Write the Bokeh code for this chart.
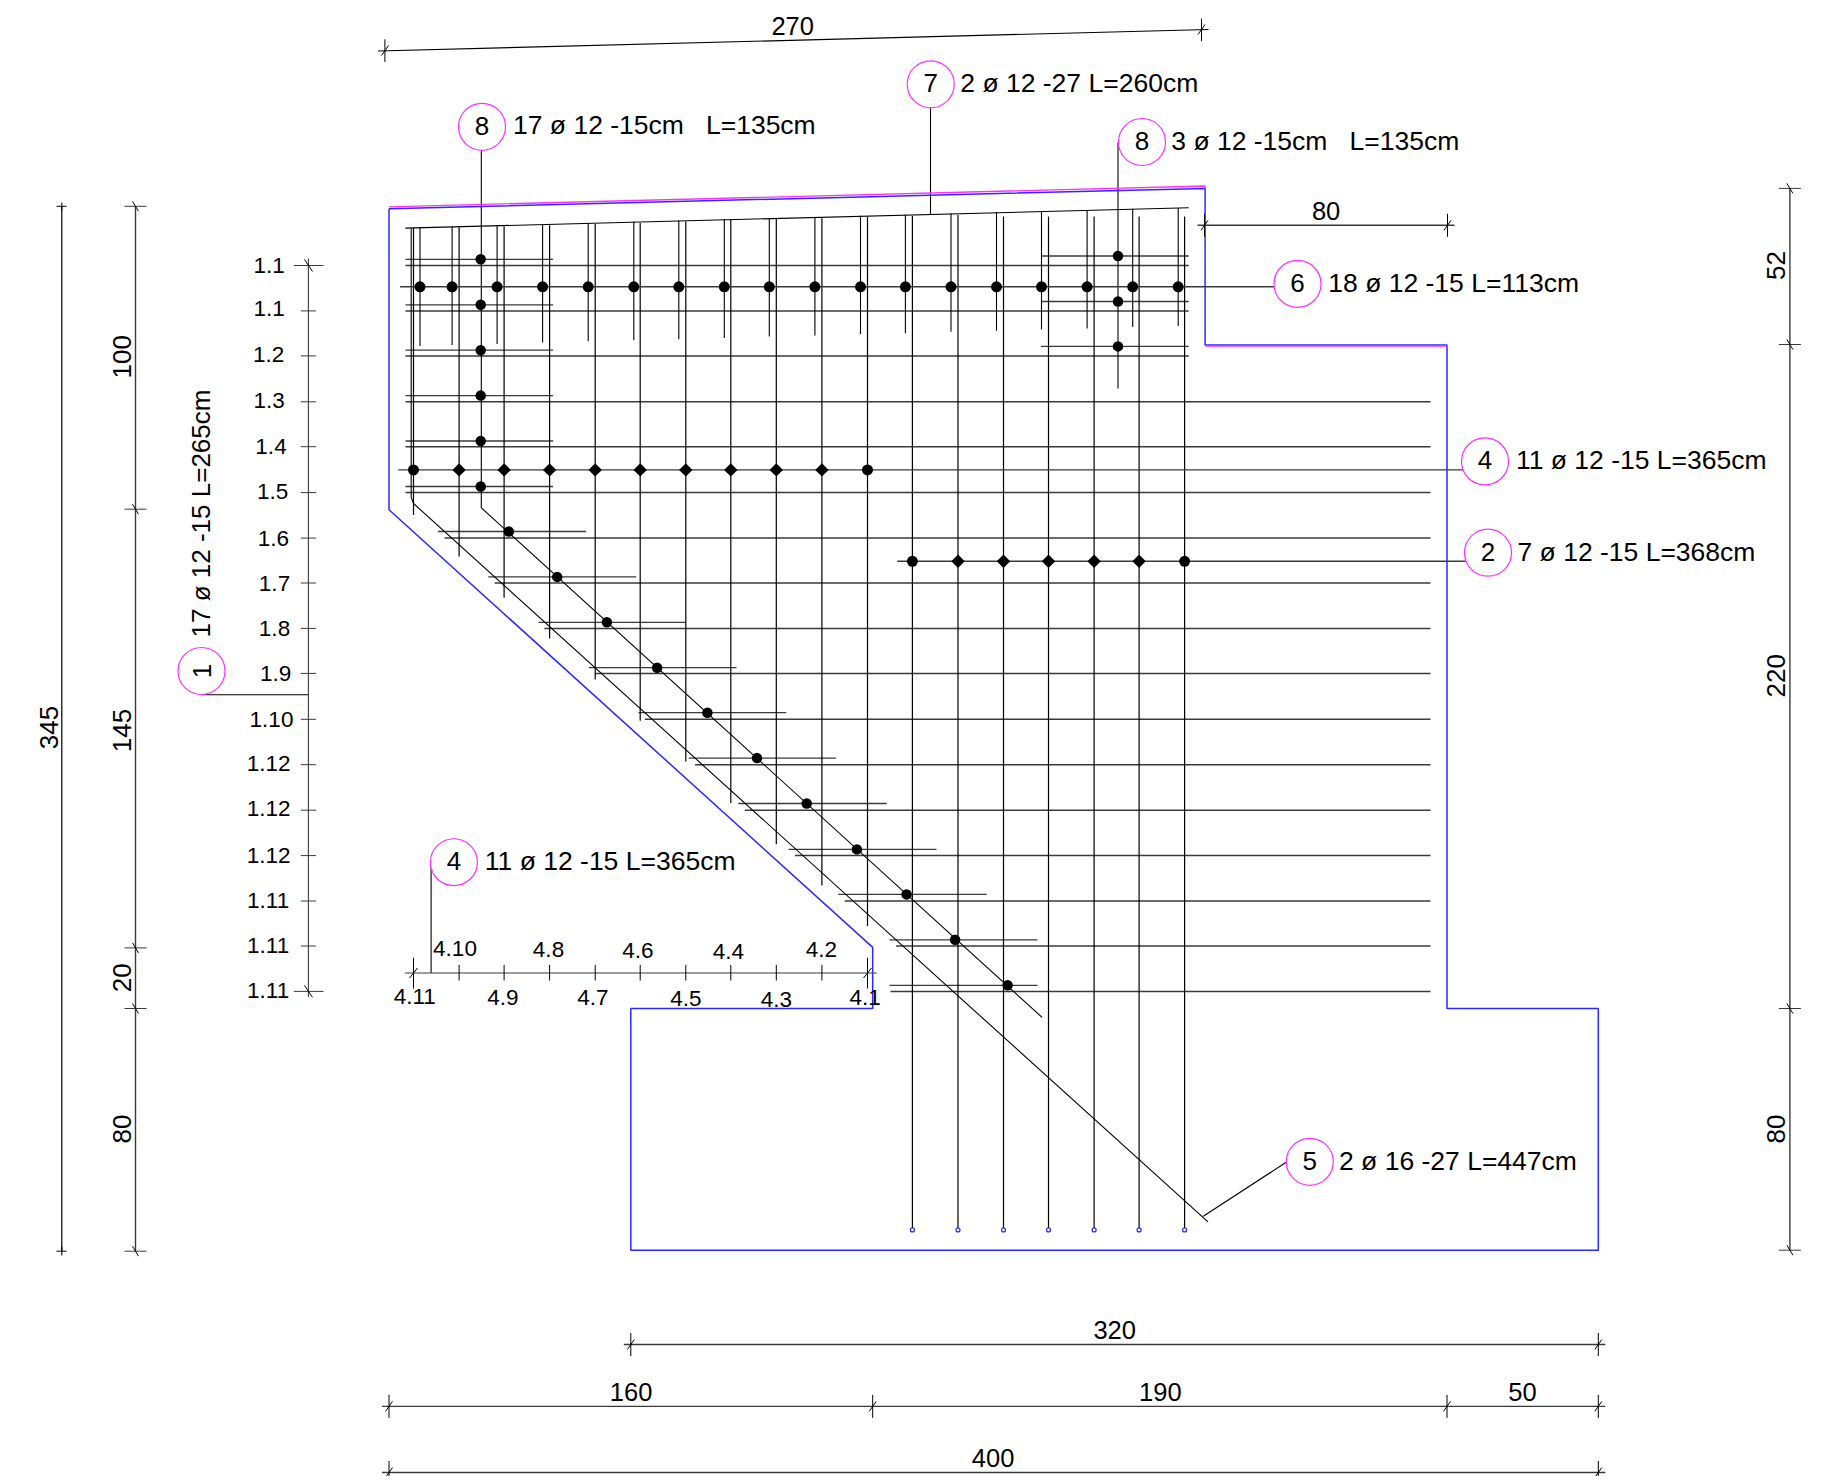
from math import pi
from bokeh.plotting import figure
from bokeh.models import Range1d
from bokeh.core.properties import value
from bokeh.embed import file_html
from bokeh.resources import INLINE

REG = "Liberation Sans"
BLUE = "#2a2aff"
MAG = "#ff30ff"
BLK = "#000000"
GRY = "#3a3a3a"

# Outline of the slab, in page units
outline_x = [388.5, 1204.6, 1204.6, 1446.5, 1446.5, 1597.8, 1597.8, 630.3, 630.3, 872.2, 872.2, 388.5, 388.5]
outline_y = [208.2, 187.9, 344.5, 344.5, 1007.9, 1007.9, 1249.7, 1249.7, 1007.9, 1007.9, 946.9, 509.2, 208.2]
magenta_x = [[388.5, 1204.6, 1204.6], [1204.6, 1446.5]]
magenta_y = [[206.3, 185.5, 188], [345.6, 345.6]]

# Bars 1: horizontals
bar1_y = [265, 310.4, 355.4, 401.3, 446.2, 492.1, 537.6, 582.5, 627.9, 672.9, 718.8, 764.2, 809.7, 855.1, 900.5, 945.5, 990.9]
bar1_left = [405, 405, 405, 405, 405, 405, 444, 494.2, 543.9, 594.7, 644.4, 694.6, 744.3, 794.5, 844.2, 895.6, 890]
bar1_right = [1188.2, 1188.2, 1188.2, 1430, 1430, 1430, 1430, 1430, 1430, 1430, 1430, 1430, 1430, 1430, 1430, 1430, 1430]
bar1_labels = ["1.1", "1.1", "1.2", "1.3", "1.4", "1.5", "1.6", "1.7", "1.8", "1.9", "1.10", "1.12", "1.12", "1.12", "1.11", "1.11", "1.11"]
bar1_label_x = [268.7, 268.7, 268.1, 268.7, 270.5, 272.2, 272.8, 274, 274, 275.1, 271, 268.1, 268.1, 268.1, 267.6, 267.6, 267.6]
bar1_label_y = [265, 307.6, 353.5, 400.3, 445.8, 491.2, 537.6, 582.5, 627.9, 672.9, 719.3, 763.3, 808.2, 854.6, 899.6, 944.5, 990.4]

# Bars 6: short verticals with dots
bar6_x = [419.5, 451.6, 496.6, 542.1, 587.7, 633.3, 678.3, 723.8, 768.8, 814.4, 860, 904.9, 950.5, 996, 1041, 1086.6, 1132.2, 1177.7]
bar6_top = [226.8, 226, 224.8, 223.6, 222.4, 221.2, 220, 218.9, 217.7, 216.5, 215.3, 214.2, 213, 211.8, 210.6, 209.4, 208.2, 207.5]
bar6_bottom = [345.4, 344.5, 343.5, 342.1, 340.7, 339.8, 338.8, 337.4, 336, 335, 333.6, 332.7, 331.2, 330.3, 328.9, 327.9, 326.5, 325.6]
bar6_dot_y = 286.3

# Bars 4 and 2: long verticals
long_x = [413, 458.6, 503.6, 549.1, 594.7, 639.7, 685.3, 730.3, 775.8, 821.4, 867, 911.9, 957.5, 1003, 1048, 1093.6, 1138.6, 1184.1]
long_top = [227.6, 226.7, 225.7, 224.8, 223.4, 222.4, 221, 219.6, 218.6, 217.7, 216.3, 215.5, 214.5, 216, 216, 216, 216, 216]
long_bottom = [514.4, 556, 597.2, 637.9, 679, 720.2, 760.9, 802.6, 843.7, 884.9, 925.6, 1229.4, 1229.4, 1229.4, 1229.4, 1229.4, 1229.4, 1229.4]
bar4_y = 469.4
bar2_y = 560.8

# Bars 8: short distribution bars with dots
bar8_left_x = [405] * 6
bar8_left_r = [552.6] * 6
bar8_left_y = [258.8, 304.3, 349.7, 395.1, 440.5, 486]
bar8_left_dot_x = 480.2
bar8_right_y = [255.5, 301, 345.9]
bar8_right_dot_x = 1117.5
diag_dot_x = [508.3, 556.7, 606.4, 656.6, 706.9, 756.5, 806.2, 856.4, 906.1, 954.6, 1007.1]
diag_dot_y = [531, 576.4, 621.8, 667.2, 712.2, 757.6, 803, 848.9, 893.9, 939.3, 984.8]
diag_bar_l = [437.6, 487.8, 538, 588.3, 638, 688.2, 737.8, 788, 837.7, 889, 889]
diag_bar_r = [585.4, 635.6, 685.3, 736, 785.8, 835.4, 886.2, 936, 986, 1037, 1037]

# Other continuous lines
thin_xs = [
    [404.9, 1188.2],
    [410.7, 410.7, 413, 1207.5],
    [480.8, 480.8, 1041.6],
    [1117.5, 1117.5],
    [201.5, 307.9],
    [1286.4, 1202.8],
    [930, 930],
    [430.6, 430.6],
    [1462.2, 1462.2],
]
thin_ys = [
    [227.6, 207.3],
    [228, 496.9, 503, 1221.4],
    [150.5, 507.3, 1016.9],
    [142, 388],
    [694.2, 694.2],
    [1161.3, 1215.7],
    [107.4, 213.9],
    [861.7, 972.5],
    [461, 469.4],
]
grey_xs = [[399.6, 1273.5], [397.8, 1462.2], [896.7, 1465.2]]
grey_ys = [[286.3, 286.3], [469.4, 469.4], [560.8, 560.8]]

# Callouts
bubble_x = [481.5, 930.2, 1141.5, 1297, 1484.5, 1487.5, 1309.3, 453.4, 201]
bubble_y = [126.3, 83.8, 141.5, 283.4, 460.9, 552.2, 1161.3, 861.7, 670.5]
bubble_no = ["8", "7", "8", "6", "4", "2", "5", "4", "1"]
call_x = [512.5, 959.8, 1170.8, 1327.8, 1515.4, 1517, 1338.5, 484.3]
call_y = [124.5, 82.5, 140.2, 282.2, 459.8, 551, 1160, 860.5]
call_text = ["17 ø 12 -15cm \u00a0 L=135cm", "2 ø 12 -27 L=260cm", "3 ø 12 -15cm \u00a0 L=135cm",
             "18 ø 12 -15 L=113cm", "11 ø 12 -15 L=365cm", "7 ø 12 -15 L=368cm",
             "2 ø 16 -27 L=447cm", "11 ø 12 -15 L=365cm"]

# Dimension lines: x0, y0, x1, y1, positions of their ticks
dim_h = [
    (630.3, 1344.0, 1597.8, [630.3, 1597.8]),
    (388.5, 1405.9, 1597.8, [388.5, 872.2, 1446.5, 1597.8]),
    (388.5, 1472.0, 1597.8, [388.5, 1597.8]),
    (1204.0, 224.8, 1447.0, [1204.0, 1447.0]),
]
dim_v = [
    (135.0, 205.8, 1250.7, [205.8, 508.7, 947.4, 1008, 1250.7]),
    (1789.4, 187.9, 1249.7, [187.9, 344, 1008, 1249.7]),
]
dim_h_text = ["320", "160", "190", "50", "400", "80", "270"]
dim_h_text_x = [1114.2, 630.6, 1159.8, 1522, 992.6, 1325.6, 792.2]
dim_h_text_y = [1329, 1391.5, 1391.5, 1391.5, 1457.2, 210, 25]
dim_v_text = ["345", "100", "145", "20", "80", "52", "220", "80"]
dim_v_text_x = [48, 121.5, 121.5, 121.5, 121.5, 1775.5, 1775.5, 1775.5]
dim_v_text_y = [727, 356.3, 730, 977.2, 1128.6, 265, 675.3, 1128.6]

# Axis for bars 4
ax4_y = 972.5
ax4_upper = ["4.10", "4.8", "4.6", "4.4", "4.2"]
ax4_upper_x = [454.5, 548, 637.4, 727.9, 820.8]
ax4_upper_y = [948.3, 949.3, 950.2, 950.7, 949.3]
ax4_lower = ["4.11", "4.9", "4.7", "4.5", "4.3", "4.1"]
ax4_lower_x = [414.2, 502.4, 592.4, 685.3, 775.8, 864.6]
ax4_lower_y = [996.1, 996.6, 997, 998, 998.5, 996.6]

p = figure(width=1824, height=1476, output_backend="svg", toolbar_location=None,
           x_range=Range1d(0, 1824), y_range=Range1d(1476, 0), min_border=0,
           background_fill_color="white", border_fill_color="white")
p.axis.visible = False
p.grid.visible = False
p.outline_line_color = None


def seg(xs, ys, color=BLK, w=1.0):
    p.multi_line(xs, ys, line_color=color, line_width=w)


def txt(x, y, t, size, font=REG, angle=0.0, align="center"):
    p.text(x, y, text=t, text_font=value(font), text_font_size=f"{size}px", text_color="#000000",
           text_align=align, text_baseline="middle", angle=angle)


# Bars
seg([[l, r] for l, r in zip(bar1_left, bar1_right)], [[y, y] for y in bar1_y], GRY, 1.5)
seg([[l, r] for l, r in zip(bar8_left_x, bar8_left_r)], [[y, y] for y in bar8_left_y], GRY, 1.3)
seg([[1040.4, 1188.2]] * len(bar8_right_y), [[y, y] for y in bar8_right_y], GRY, 1.3)
seg([[l, r] for l, r in zip(diag_bar_l, diag_bar_r)], [[y, y] for y in diag_dot_y], GRY, 1.3)
seg([[x, x] for x in bar6_x], [[t, b] for t, b in zip(bar6_top, bar6_bottom)], BLK, 1.1)
seg([[x, x] for x in long_x], [[t, b] for t, b in zip(long_top, long_bottom)], BLK, 1.2)
seg(thin_xs, thin_ys, BLK, 1.1)
seg(grey_xs, grey_ys, GRY, 1.4)

# Outline
p.line(outline_x, outline_y, line_color=BLUE, line_width=1.5)
seg(magenta_x, magenta_y, MAG, 1.3)

# Dots
dx = bar6_x
p.scatter(dx, [bar6_dot_y] * len(dx), marker="circle", size=11, fill_color="black", line_color=None)
p.scatter([bar8_left_dot_x] * 6, bar8_left_y, marker="circle", size=10.5, fill_color="black", line_color=None)
p.scatter([bar8_right_dot_x] * 3, bar8_right_y, marker="circle", size=10.5, fill_color="black", line_color=None)
p.scatter(diag_dot_x, diag_dot_y, marker="circle", size=10.5, fill_color="black", line_color=None)
p.scatter([long_x[0], long_x[10]], [bar4_y] * 2, marker="circle", size=11, fill_color="black", line_color=None)
p.scatter(long_x[1:10], [bar4_y] * 9, marker="square", angle=pi / 4, size=9.5, fill_color="black", line_color=None)
p.scatter([long_x[11], long_x[17]], [bar2_y] * 2, marker="circle", size=11, fill_color="black", line_color=None)
p.scatter(long_x[12:17], [bar2_y] * 5, marker="square", angle=pi / 4, size=9.5, fill_color="black", line_color=None)
p.scatter(long_x[11:], [1229.4] * 7, marker="circle", size=4, fill_color="white", line_color=BLUE, line_width=1.2)

# Tick axis for bars 1
seg([[307.9, 307.9]], [[258, 996.6]], GRY, 1.1)
seg([[300.3, 315.5] for _ in bar1_y[1:-1]], [[y, y] for y in bar1_y[1:-1]], GRY, 1.0)
seg([[293.3, 323]] * 2, [[bar1_y[0]] * 2, [bar1_y[-1]] * 2], GRY, 1.0)
seg([[304, 312]] * 2, [[bar1_y[0] - 6, bar1_y[0] + 6], [bar1_y[-1] - 6, bar1_y[-1] + 6]], BLK, 1.0)

# Tick axis for bars 4
seg([[404.3, 876.3]], [[ax4_y, ax4_y]], GRY, 1.2)
seg([[x, x] for x in long_x[1:10]], [[964.4, 980]] * 9, BLK, 1.0)
seg([[long_x[0]] * 2, [long_x[10]] * 2], [[957.3, 988]] * 2, BLK, 1.0)
seg([[long_x[0] - 4, long_x[0] + 4], [long_x[10] - 4, long_x[10] + 4]], [[ax4_y + 5, ax4_y - 5]] * 2, BLK, 1.0)

# Dimension lines
for x0, y, x1, ticks in dim_h:
    seg([[x0 - 7, x1 + 7]], [[y, y]], GRY, 1.4)
    seg([[t, t] for t in ticks], [[y - 11.5, y + 11.5]] * len(ticks), BLK, 1.0)
    seg([[t - 3.5, t + 3.5] for t in ticks], [[y + 5, y - 5]] * len(ticks), BLK, 1.0)
for x, y0, y1, ticks in dim_v:
    seg([[x, x]], [[y0, y1]], GRY, 1.4)
    seg([[x - 11, x + 11]] * len(ticks), [[t, t] for t in ticks], GRY, 1.0)
    seg([[x - 3, x + 3]] * len(ticks), [[t - 5, t + 5] for t in ticks], BLK, 1.0)
seg([[61.3, 61.3]], [[205.8, 1250.7]], BLK, 1.2)
seg([[56, 66]] * 2, [[205.8, 205.8], [1250.7, 1250.7]], BLK, 1.0)
seg([[61.3, 61.3]] * 2, [[202, 210], [1246, 1255]], BLK, 1.0)
# Sloped dimension
seg([[377.4, 1208]], [[50.5, 29]], BLK, 1.2)
seg([[384.4, 384.4], [1201, 1201]], [[38.8, 61.5], [18, 40.7]], BLK, 1.0)
seg([[381, 388], [1197.5, 1204.5]], [[55, 45], [34, 24]], BLK, 1.0)

# Callouts
p.scatter(bubble_x, bubble_y, marker="circle", size=47, fill_color="white", fill_alpha=1.0, line_color=MAG, line_width=1.2)
txt(bubble_x[:-1], [y - 1 for y in bubble_y[:-1]], bubble_no[:-1], 26)
txt(bubble_x[-1:], bubble_y[-1:], bubble_no[-1:], 26, REG, pi / 2)
txt(call_x, call_y, call_text, 26.5, align="left")
txt([200.5], [513], ["17 ø 12 -15 L=265cm"], 26, REG, pi / 2)

# Texts
txt(dim_h_text_x, dim_h_text_y, dim_h_text, 25.5)
txt(dim_v_text_x, dim_v_text_y, dim_v_text, 26, REG, pi / 2)
txt(bar1_label_x, bar1_label_y, bar1_labels, 22.5)
txt(ax4_upper_x, ax4_upper_y, ax4_upper, 22.5)
txt(ax4_lower_x, ax4_lower_y, ax4_lower, 22.5)

open("out.html", "w").write(file_html(p, INLINE))
